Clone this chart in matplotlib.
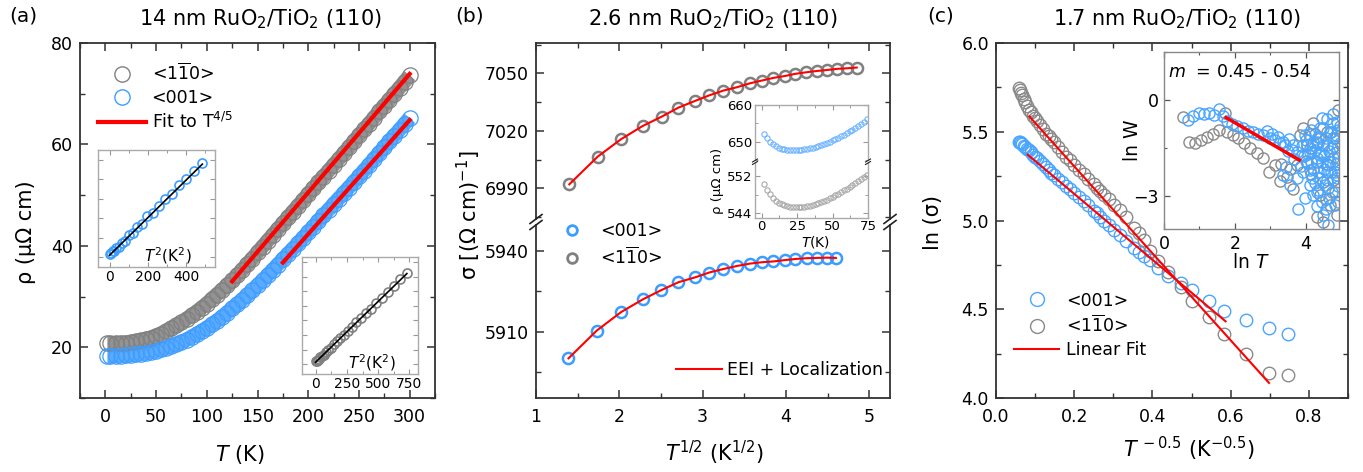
import numpy as np
import matplotlib.pyplot as plt
from matplotlib.ticker import MultipleLocator, FormatStrFormatter
from matplotlib.lines import Line2D

plt.rcParams['font.family'] = ['DejaVu Sans']
plt.rcParams['mathtext.fontset'] = 'dejavusans'

# ---------------- data ----------------
# (a) 14 nm film, rho(T)
T_a = [2, 5, 10, 15, 20, 25, 30, 35, 40, 45, 50, 55, 60, 65, 70, 75, 80, 85, 90, 95,
       100, 105, 110, 115, 120, 125, 130, 135, 140, 145, 150, 155, 160, 165, 170, 175,
       180, 185, 190, 195, 200, 205, 210, 215, 220, 225, 230, 235, 240, 245, 250, 255,
       260, 265, 270, 275, 280, 285, 290, 295, 300]
rho_110 = [20.8, 20.8, 20.8, 20.85, 20.9, 21.0, 21.15, 21.35, 21.6, 21.9,
           22.3, 22.7, 23.2, 23.75, 24.3, 24.9, 25.6, 26.3, 27.0, 27.8,
           28.6, 29.5, 30.4, 31.3, 32.2, 33.2, 34.2, 35.3, 36.4, 37.5,
           38.7, 39.85, 41.0, 42.15, 43.3, 44.45, 45.6, 46.75, 47.9, 49.05,
           50.2, 51.35, 52.5, 53.65, 54.8, 55.95, 57.1, 58.25, 59.4, 60.6,
           61.8, 62.95, 64.1, 65.3, 66.5, 67.65, 68.8, 70.0, 71.2, 72.4, 73.6]
rho_001 = [18.3, 18.3, 18.3, 18.35, 18.4, 18.5, 18.6, 18.75, 18.9, 19.1,
           19.3, 19.6, 19.9, 20.25, 20.6, 21.05, 21.5, 22.05, 22.6, 23.2,
           23.8, 24.5, 25.2, 26.0, 26.8, 27.65, 28.5, 29.4, 30.3, 31.25,
           32.2, 33.2, 34.2, 35.25, 36.3, 37.35, 38.4, 39.45, 40.5, 41.6,
           42.7, 43.8, 44.9, 46.0, 47.1, 48.2, 49.3, 50.4, 51.5, 52.6,
           53.7, 54.85, 56.0, 57.15, 58.3, 59.45, 60.6, 61.75, 62.9, 64.05, 65.2]
T_fit110, rho_fit110 = [125, 300], [33.0, 73.9]
T_fit001, rho_fit001 = [175, 300], [36.7, 64.8]

# (a) insets, rho vs T^2 (arbitrary units)
T2_001 = [4, 9, 16, 25, 36, 49, 64, 81, 100, 121, 144, 169, 196, 225, 256, 289, 324,
          361, 400, 441, 484]
d_001 = [0.03, 0.045, 0.06, 0.065, 0.095, 0.11, 0.15, 0.17, 0.225, 0.25, 0.31, 0.345,
         0.42, 0.455, 0.53, 0.6, 0.645, 0.74, 0.8, 0.88, 0.97]
T2_fit001, d_fit001 = [0, 484], [0.02, 0.955]
T2_110 = [4, 9, 16, 25, 36, 49, 64, 81, 100, 121, 144, 169, 196, 225, 256, 289, 324,
          361, 400, 441, 484, 529, 576, 625, 676, 729]
d_110 = [0.03, 0.035, 0.045, 0.055, 0.07, 0.085, 0.1, 0.125, 0.15, 0.17, 0.205, 0.235,
         0.27, 0.3, 0.345, 0.385, 0.43, 0.47, 0.525, 0.57, 0.63, 0.68, 0.745, 0.8, 0.87, 0.935]
T2_fit110, d_fit110 = [0, 729], [0.02, 0.93]

# (b) 2.6 nm film, sigma vs T^1/2
sqT_110 = [1.40, 1.74, 2.02, 2.28, 2.51, 2.71, 2.91, 3.08, 3.25, 3.41, 3.57, 3.71,
           3.85, 3.99, 4.11, 4.24, 4.37, 4.49, 4.61, 4.73, 4.85]
sig_110 = [6992.1, 7006.5, 7015.6, 7022.5, 7027.4, 7032.1, 7035.6, 7038.5, 7041.0,
           7042.7, 7044.8, 7046.2, 7047.6, 7048.6, 7049.7, 7050.5, 7051.2, 7051.7,
           7052.3, 7052.6, 7053.0]
sqT_001 = [1.39, 1.73, 2.02, 2.28, 2.50, 2.71, 2.91, 3.08, 3.25, 3.41, 3.57, 3.71,
           3.85, 3.99, 4.11, 4.25, 4.37, 4.49, 4.60]
sig_001 = [5900.1, 5910.4, 5917.2, 5921.9, 5925.3, 5928.3, 5930.1, 5931.9, 5933.2,
           5934.3, 5935.2, 5935.7, 5936.0, 5936.5, 5936.9, 5937.2, 5937.3, 5937.4, 5937.3]

# (b) inset, rho(T) at low T
T_in = [2, 4, 6, 8, 10, 12, 14, 16, 18, 20, 22, 24, 26, 28, 30, 32, 34, 36, 38,
        40, 42, 44, 46, 48, 50, 52, 54, 56, 58, 60, 62, 64, 66, 68, 70, 72, 74]
rho_in_001 = [652.0, 650.9, 650.0, 649.3, 648.8, 648.4, 648.1, 647.9, 647.8, 647.7,
              647.65, 647.65, 647.7, 647.8, 647.9, 648.05, 648.2, 648.4, 648.6, 648.85,
              649.1, 649.4, 649.7, 650.0, 650.35, 650.7, 651.1, 651.5, 651.9, 652.35,
              652.8, 653.3, 653.8, 654.3, 654.9, 655.5, 656.1]
rho_in_110 = [550.2, 549.0, 548.1, 547.3, 546.7, 546.3, 545.9, 545.7, 545.5, 545.4,
              545.3, 545.3, 545.3, 545.35, 545.4, 545.5, 545.65, 545.8, 546.0, 546.2,
              546.45, 546.7, 546.95, 547.25, 547.55, 547.85, 548.2, 548.55, 548.9, 549.3,
              549.7, 550.1, 550.5, 550.95, 551.4, 551.85, 552.3]

# (c) 1.7 nm film, ln(sigma) vs T^-0.5
x_c = [0.746, 0.698, 0.639, 0.582, 0.545, 0.502, 0.472, 0.440, 0.415, 0.395, 0.378,
       0.365, 0.354, 0.333, 0.316, 0.302, 0.289, 0.277, 0.267, 0.258, 0.250, 0.236,
       0.224, 0.213, 0.200, 0.189, 0.180, 0.169, 0.158, 0.149, 0.141, 0.135, 0.129,
       0.120, 0.112, 0.105, 0.100, 0.095, 0.089, 0.0845, 0.079, 0.0745, 0.0707,
       0.0667, 0.0632, 0.0603, 0.0577]
ln_110 = [4.128, 4.142, 4.248, 4.358, 4.454, 4.546, 4.627, 4.71, 4.77, 4.83, 4.89,
          4.93, 4.96, 5.02, 5.06, 5.09, 5.12, 5.145, 5.165, 5.185, 5.205, 5.235,
          5.26, 5.285, 5.315, 5.34, 5.36, 5.385, 5.415, 5.44, 5.46, 5.475, 5.49,
          5.515, 5.54, 5.56, 5.575, 5.59, 5.61, 5.625, 5.645, 5.665, 5.685,
          5.705, 5.72, 5.735, 5.745]
ln_001 = [4.358, 4.392, 4.439, 4.492, 4.546, 4.608, 4.646, 4.69, 4.735, 4.775, 4.80,
          4.825, 4.845, 4.885, 4.92, 4.945, 4.975, 5.00, 5.02, 5.04, 5.055, 5.085,
          5.11, 5.13, 5.155, 5.175, 5.195, 5.215, 5.235, 5.255, 5.27, 5.285, 5.30,
          5.32, 5.335, 5.35, 5.36, 5.37, 5.385, 5.395, 5.405, 5.415, 5.42,
          5.43, 5.435, 5.44, 5.445]
xfit_110, yfit_110 = [0.085, 0.698], [5.587, 4.085]
xfit_001, yfit_001 = [0.081, 0.587], [5.371, 4.432]

# (c) inset, ln W vs ln T
lnT_001 = [0.685, 0.826, 0.995, 1.136, 1.277, 1.418, 1.559, 1.653, 1.784, 1.915, 2.066,
           2.216, 2.376, 2.516, 2.657, 2.798, 2.91, 2.986, 3.127, 3.268, 3.408, 3.53,
           3.643, 3.737, 3.878, 3.97, 4.02, 4.11, 4.21, 4.30, 4.39, 4.49, 4.58, 4.68,
           4.77, 4.86, 3.36, 3.55, 3.74, 3.92, 3.97, 3.78, 4.11, 4.21, 4.35, 4.44, 4.53,
           4.63, 4.72, 4.82, 4.86, 4.02, 4.21, 4.39, 4.58, 4.77, 4.86, 4.49, 4.75, 4.30,
           4.63, 4.82, 4.16, 4.49, 4.30,
           4.0, 4.05, 4.15, 4.25, 4.35, 4.45, 4.55, 4.6, 4.65, 4.7, 4.8, 4.85, 4.9, 4.4,
           4.25, 4.1, 3.9, 3.85, 4.65, 4.9, 4.55, 4.3, 3.65, 3.5, 3.45, 4.75, 4.9, 4.6,
           4.45, 4.15,
           3.05, 3.2, 3.35, 3.6, 3.95, 4.08, 4.33, 4.52, 4.68, 4.88, 4.62, 4.42, 4.18,
           4.7, 4.85, 4.52, 4.35, 4.95, 4.95, 4.95]
lnW_001 = [-0.625, -0.49, -0.417, -0.4375, -0.417, -0.469, -0.292, -0.5, -0.656, -0.74,
           -0.81, -0.885, -0.969, -1.01, -1.07, -1.094, -0.969, -1.198, -1.25, -1.354,
           -1.406, -1.219, -1.406, -1.615, -1.719, -1.094, -1.41, -1.61, -1.30, -1.82,
           -0.885, -1.41, -2.24, -0.99, -1.82, -0.68, -2.34, -2.66, -2.45, -2.24, -3.07,
           -3.39, -2.66, -2.97, -2.24, -3.18, -2.66, -3.9, -2.86, -3.28, -2.45, -1.98,
           -2.14, -1.72, -1.41, -1.2, -1.61, -0.885, -0.73, -1.30, -2.03, -2.24, -2.45,
           -3.6, -2.86,
           -1.25, -1.7, -1.95, -1.55, -1.15, -1.95, -1.2, -2.5, -1.6, -2.25, -1.45, -2.0,
           -2.7, -2.45, -2.6, -2.2, -1.45, -2.05, -3.05, -3.2, -3.4, -3.3, -1.85, -1.6,
           -2.1, -0.45, -0.95, -0.6, -0.55, -0.95,
           -1.05, -1.15, -1.3, -1.55, -1.75, -1.05, -1.35, -1.75, -1.95, -2.35, -2.75,
           -1.65, -1.4, -1.0, -1.1, -2.15, -2.8, -1.35, -2.2, -0.8]
lnT_110 = [0.545, 0.714, 0.873, 1.033, 1.20, 1.371, 1.559, 1.718, 1.784, 1.953, 2.094,
           2.254, 2.423, 2.61, 2.798, 2.967, 3.127, 3.268, 3.455, 3.643, 3.737, 3.925,
           4.207, 4.11, 4.30, 4.39, 4.49, 4.30, 4.49, 4.68, 4.82, 4.91, 4.82, 4.72, 4.58,
           4.02, 3.83, 4.86,
           4.0, 4.15, 4.4, 4.6, 4.75, 4.9, 4.55, 4.25, 3.55, 3.3]
lnW_110 = [-0.52, -1.30, -1.354, -1.25, -1.146, -1.073, -0.9375, -0.417, -0.99, -1.094,
           -1.198, -1.354, -1.51, -1.667, -1.823, -2.24, -2.03, -2.53, -2.40, -2.78,
           -2.03, -0.885, -0.73, -1.51, -1.93, -2.97, -2.55, -3.65, -3.8, -3.28, -2.86,
           -0.31, -1.2, -1.51, -0.99, -1.41, -1.094, -3.6,
           -1.9, -2.3, -1.2, -2.0, -2.5, -1.8, -3.1, -1.05, -2.15, -2.0]
lnT_fit, lnW_fit = [1.75, 3.81], [-0.55, -1.875]

# ---------------- styling helpers ----------------
W, H = 1363, 472
GRAY = '#808080'
BLUE = '#3d9dff'
RED = '#ff0000'
LBL_110 = r'<1$\overline{\mathrm{1}}$0>'
LBL_001 = '<001>'

fig = plt.figure(figsize=(W / 100, H / 100), dpi=100)


def px_axes(x0, y0, x1, y1):
    return fig.add_axes([x0 / W, 1 - y1 / H, (x1 - x0) / W, (y1 - y0) / H])


def style(ax, xmaj, xmin, ymaj, ymin, size=12.5, lw=1.3):
    ax.xaxis.set_major_locator(MultipleLocator(xmaj))
    ax.xaxis.set_minor_locator(MultipleLocator(xmin))
    ax.yaxis.set_major_locator(MultipleLocator(ymaj))
    ax.yaxis.set_minor_locator(MultipleLocator(ymin))
    ax.tick_params(which='both', direction='in', top=True, right=True, labelsize=size,
                   color='#333333')
    ax.tick_params(which='major', length=6, width=1.1)
    ax.tick_params(which='minor', length=3.5, width=1.0)
    ax.tick_params(axis='x', pad=7)
    ax.tick_params(axis='y', pad=5)
    for s in ax.spines.values():
        s.set_linewidth(lw)
        s.set_color('#333333')


def style_inset(ax, xmaj, xmin, size=10, frame='#aaaaaa'):
    ax.xaxis.set_major_locator(MultipleLocator(xmaj))
    ax.xaxis.set_minor_locator(MultipleLocator(xmin))
    ax.tick_params(which='both', direction='in', top=True, right=True, labelsize=size,
                   color='#999999', pad=2)
    ax.tick_params(which='major', length=3.5, width=0.8)
    ax.tick_params(which='minor', length=2, width=0.7)
    for s in ax.spines.values():
        s.set_linewidth(1.0)
        s.set_color(frame)


def brk(xpx, ypx, w, h, lw=1.2):
    fig.add_artist(Line2D([(xpx - w) / W, (xpx + w) / W],
                          [1 - (ypx + h) / H, 1 - (ypx - h) / H], color='#222222', lw=lw))


def ftext(xpx, ypx, s, **kw):
    fig.text(xpx / W, 1 - ypx / H, s, **kw)


# ---------------- panel (a) ----------------
axa = px_axes(80, 43, 435, 398)
axa.plot(T_a, rho_110, color=GRAY, lw=10.5, alpha=0.85, solid_capstyle='butt', zorder=1)
axa.plot(T_a, rho_001, color=BLUE, lw=10.5, alpha=0.85, solid_capstyle='butt', zorder=1)
axa.plot(T_a, rho_110, 'o', ms=11, mfc='none', mec=GRAY, mew=0.9, zorder=2)
axa.plot(T_a, rho_001, 'o', ms=11, mfc='none', mec=BLUE, mew=0.9, zorder=2)
axa.plot(T_fit110, rho_fit110, color=RED, lw=3, zorder=3)
axa.plot(T_fit001, rho_fit001, color=RED, lw=3, zorder=3)
axa.set_xlim(-25, 325)
axa.set_ylim(10, 80)
style(axa, 50, 25, 20, 10)
h_a = [Line2D([], [], ls='none', marker='o', ms=11, mfc='none', mec=GRAY, mew=1.0),
       Line2D([], [], ls='none', marker='o', ms=11, mfc='none', mec=BLUE, mew=1.0),
       Line2D([], [], color=RED, lw=3)]
axa.legend(h_a, [LBL_110, LBL_001, r'Fit to T$^{4/5}$'], loc='upper left',
           bbox_to_anchor=(0.05, 0.945), frameon=False, fontsize=12.5, handlelength=2.8,
           handletextpad=0.3, borderpad=0, borderaxespad=0, labelspacing=0.3)

ia1 = px_axes(98, 150, 215, 267)
ia1.plot(T2_001, d_001, 'o', ms=6.5, mfc='none', mec=BLUE, mew=1.2)
ia1.plot(T2_fit001, d_fit001, color='black', lw=1.2)
ia1.set_xlim(-60, 550)
ia1.set_ylim(-0.1, 1.1)
style_inset(ia1, 200, 100)
ia1.yaxis.set_major_locator(MultipleLocator(0.2))
ia1.set_yticklabels([])
ia1.text(0.6, 0.1, r'$T^2$(K$^2$)', transform=ia1.transAxes, ha='center', va='center',
         fontsize=11)

ia2 = px_axes(302, 257, 418, 374)
ia2.plot(T2_110, d_110, 'o', ms=6.5, mfc='none', mec=GRAY, mew=1.2)
ia2.plot(T2_fit110, d_fit110, color='black', lw=1.2)
ia2.set_xlim(-108, 818)
ia2.set_ylim(-0.1, 1.1)
style_inset(ia2, 250, 125)
ia2.yaxis.set_major_locator(MultipleLocator(0.15))
ia2.set_yticklabels([])
ia2.text(0.6, 0.1, r'$T^2$(K$^2$)', transform=ia2.transAxes, ha='center', va='center',
         fontsize=11)

# ---------------- panel (b) ----------------
axbt = px_axes(536, 43, 890, 219)
axbb = px_axes(536, 225, 890, 398)
axbt.plot(sqT_110, sig_110, 'o', ms=8, mfc='none', mec=GRAY, mew=1.8, zorder=2)
axbt.plot(sqT_110, sig_110, color=RED, lw=1.5, zorder=3)
axbb.plot(sqT_001, sig_001, 'o', ms=8, mfc='none', mec=BLUE, mew=1.8, zorder=2)
axbb.plot(sqT_001, sig_001, color=RED, lw=1.5, zorder=3)
for ax in (axbt, axbb):
    ax.set_xlim(1, 5.25)
    style(ax, 1, 0.5, 30, 15)
axbt.set_ylim(6974.0, 7065.8)
axbb.set_ylim(5885.4, 5949.5)
axbt.spines['bottom'].set_visible(False)
axbb.spines['top'].set_visible(False)
axbt.tick_params(which='both', bottom=False, labelbottom=False)
axbb.tick_params(which='both', top=False)
for xx in (536, 890):
    for yy in (219, 225):
        brk(xx, yy, 6, 4.5)

h_b = [Line2D([], [], ls='none', marker='o', ms=7, mfc='none', mec=BLUE, mew=2.0),
       Line2D([], [], ls='none', marker='o', ms=7, mfc='none', mec=GRAY, mew=2.0)]
axbb.legend(h_b, [LBL_001, LBL_110], loc='upper left', bbox_to_anchor=(0.0525, 1.015),
            frameon=False, fontsize=12.5, handlelength=2.0, handletextpad=0.6,
            borderpad=0, borderaxespad=0, labelspacing=0.35)
leg2 = [Line2D([], [], color=RED, lw=1.5)]
axbb.add_artist(axbb.get_legend())
axbb.legend(leg2, ['EEI + Localization'], loc='center left', bbox_to_anchor=(0.395, 0.162),
            frameon=False, fontsize=12.5, handlelength=2.65, handletextpad=0.3,
            borderpad=0, borderaxespad=0)

ibt = px_axes(755, 105, 868, 160.5)
ibb = px_axes(755, 163, 868, 217.7)
ibt.plot(T_in, rho_in_001, 'o', ms=3.8, mfc='none', mec='#6db3ff', mew=0.8)
ibb.plot(T_in, rho_in_110, 'o', ms=3.8, mfc='none', mec='#a8a8a8', mew=0.8)
for ax in (ibt, ibb):
    ax.set_xlim(-4.7, 75)
    style_inset(ax, 25, 12.5, size=9.5)
ibt.set_ylim(644.9, 660)
ibb.set_ylim(543.06, 554.8)
ibt.yaxis.set_major_locator(MultipleLocator(10))
ibt.yaxis.set_minor_locator(MultipleLocator(5))
ibb.yaxis.set_major_locator(MultipleLocator(8))
ibb.yaxis.set_minor_locator(MultipleLocator(4))
ibt.spines['bottom'].set_visible(False)
ibb.spines['top'].set_visible(False)
ibt.tick_params(which='both', bottom=False, labelbottom=False)
ibb.tick_params(which='both', top=False)
for xx in (755, 868):
    for yy in (160.5, 163):
        brk(xx, yy, 2.5, 1.5, lw=0.8)
ftext(718, 181, 'ρ (μΩ cm)', rotation=90, ha='center', va='center', fontsize=9.5)
ftext(816, 242, r'$T$(K)', ha='center', va='center', fontsize=10)

# ---------------- panel (c) ----------------
axc = px_axes(996, 43, 1348, 398)
axc.plot(x_c, ln_001, 'o', ms=9, mfc='none', mec='#4aa5ff', mew=1.0, zorder=2)
axc.plot(x_c, ln_110, 'o', ms=9, mfc='none', mec='#8a8a8a', mew=1.0, zorder=2)
axc.plot(xfit_110, yfit_110, color=RED, lw=1.5, zorder=3)
axc.plot(xfit_001, yfit_001, color=RED, lw=1.5, zorder=3)
axc.set_xlim(0, 0.9)
axc.set_ylim(4.0, 6.0)
style(axc, 0.2, 0.1, 0.5, 0.25)
axc.xaxis.set_major_formatter(FormatStrFormatter('%.1f'))
axc.yaxis.set_major_formatter(FormatStrFormatter('%.1f'))
h_c = [Line2D([], [], ls='none', marker='o', ms=10, mfc='none', mec='#4aa5ff', mew=1.0),
       Line2D([], [], ls='none', marker='o', ms=10, mfc='none', mec='#8a8a8a', mew=1.0),
       Line2D([], [], color=RED, lw=1.5)]
axc.legend(h_c, [LBL_001, LBL_110, 'Linear Fit'], loc='upper left',
           bbox_to_anchor=(0.051, 0.30), frameon=False, fontsize=12.5, handlelength=2.6,
           handletextpad=0.4, borderpad=0, borderaxespad=0, labelspacing=0.3)

ic = px_axes(1164, 52, 1339, 229)
ic.plot(lnT_110, lnW_110, 'o', ms=8, mfc='none', mec='#8a8a8a', mew=1.0)
ic.plot(lnT_001, lnW_001, 'o', ms=8, mfc='none', mec='#4aa5ff', mew=1.0)
ic.plot(lnT_fit, lnW_fit, color=RED, lw=2.5)
ic.set_xlim(0, 4.93)
ic.set_ylim(-4.03, 1.5)
ic.xaxis.set_major_locator(MultipleLocator(2))
ic.xaxis.set_minor_locator(MultipleLocator(1))
ic.yaxis.set_major_locator(MultipleLocator(3))
ic.yaxis.set_minor_locator(MultipleLocator(1.5))
ic.tick_params(which='both', direction='in', top=True, right=True, labelsize=12.5,
               color='#555555', pad=4)
ic.tick_params(which='major', length=4.5, width=0.9)
ic.tick_params(which='minor', length=2.5, width=0.8)
for s in ic.spines.values():
    s.set_color('#888888')
    s.set_linewidth(1.0)
ic.text(0.023, 0.887, r'$m$  = 0.45 - 0.54', transform=ic.transAxes, ha='left',
        va='center', fontsize=12.5)
ftext(1132, 140, 'ln W', rotation=90, ha='center', va='center', fontsize=13.5)
ftext(1251, 263, r'ln $T$', ha='center', va='center', fontsize=13.5)

# ---------------- labels and titles ----------------
ftext(23, 21, '(a)', ha='center', va='baseline', fontsize=14.5)
ftext(470, 21, '(b)', ha='center', va='baseline', fontsize=14.5)
ftext(941, 21, '(c)', ha='center', va='baseline', fontsize=14.5)
ftext(260, 25, r'14 nm RuO$_2$/TiO$_2$ (110)', ha='center', va='baseline', fontsize=15)
ftext(713, 25, r'2.6 nm RuO$_2$/TiO$_2$ (110)', ha='center', va='baseline', fontsize=15)
ftext(1177, 25, r'1.7 nm RuO$_2$/TiO$_2$ (110)', ha='center', va='baseline', fontsize=15)

ftext(26, 232, 'ρ (μΩ cm)', rotation=90, ha='center', va='center', fontsize=15)
ftext(469, 215, r'σ [(Ω cm)$^{-1}$]', rotation=90, ha='center', va='center', fontsize=15)
ftext(933, 222, 'ln (σ)', rotation=90, ha='center', va='center', fontsize=15)

ftext(240, 455, r'$T$ (K)', ha='center', va='center', fontsize=15)
ftext(714, 453, r'$T^{1/2}$ (K$^{1/2}$)', ha='center', va='center', fontsize=15)
ftext(1189, 449, r'$T^{\,-0.5}$ (K$^{-0.5}$)', ha='center', va='center', fontsize=15)

fig.savefig('out.png', dpi=100)
